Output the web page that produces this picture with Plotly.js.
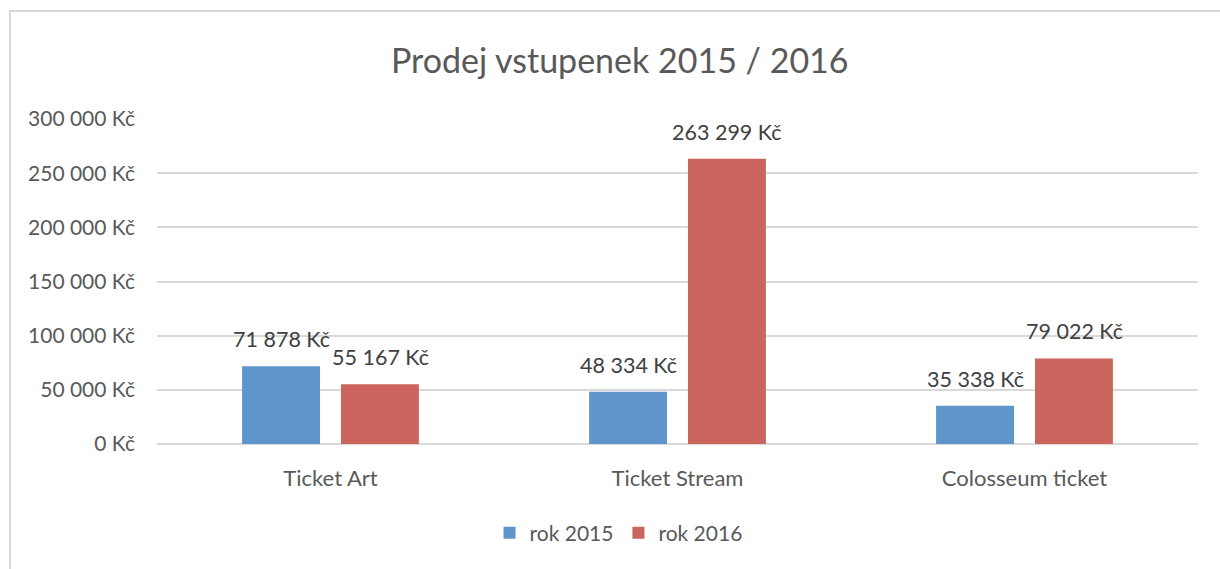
<!DOCTYPE html>
<html><head><meta charset="utf-8">
<script src="https://cdn.plot.ly/plotly-3.0.1.min.js"></script>
<style>
html,body{margin:0;padding:0;background:#fff;overflow:hidden}
#wrap{position:relative;width:1220px;height:569px}
#chart{position:absolute;left:0;top:0;width:1220px;height:569px}
#frame{position:absolute;left:9px;top:10px;width:1300px;height:700px;border-left:2px solid #d9d9d9;border-top:2px solid #d9d9d9;pointer-events:none}
</style></head>
<body><div id="wrap"><div id="chart"></div><div id="frame"></div></div>
<script>
const categories = ["Ticket Art", "Ticket Stream", "Colosseum ticket"];
const seriesNames = ["rok 2015", "rok 2016"];
const values2015 = [71878, 48334, 35338];
const values2016 = [55167, 263299, 79022];
const yTicks = [0, 50000, 100000, 150000, 200000, 250000, 300000];

function fmt(v){ return String(v).replace(/\B(?=(\d{3})+(?!\d))/g, " ") + " Kč"; }

const colors = ["#5F95CA", "#CC655D"];
const font = "Lato, 'Open Sans', sans-serif";

const traces = [values2015, values2016].map((vals, i) => ({
  type: "bar", name: seriesNames[i], x: categories, y: vals,
  marker: {color: colors[i]}, hoverinfo: "skip"
}));

const annotations = [];
[values2015, values2016].forEach((vals, i) => {
  vals.forEach((v, j) => {
    annotations.push({
      x: categories[j], y: v, xref: "x", yref: "y",
      text: fmt(v), showarrow: false, yanchor: "bottom",
      xshift: i === 0 ? -49.5 : 49.5, yshift: 12,
      font: {family: font, size: 21.5, color: "#404040"}
    });
  });
});

const layout = {
  width: 1220, height: 569,
  margin: {l: 157, r: 22, t: 119, b: 125},
  paper_bgcolor: "rgba(0,0,0,0)", plot_bgcolor: "#fff",
  title: {text: "Prodej vstupenek 2015 / 2016", x: 0.508, xanchor: "center", y: 0.892, yanchor: "middle",
          font: {family: font, size: 34, color: "#595959"}},
  barmode: "group", bargap: 0.43, bargroupgap: 0.212,
  xaxis: {type: "category", showgrid: false, zeroline: false, showline: false, ticks: "",
          ticklabelstandoff: 19, tickfont: {family: font, size: 22, color: "#595959"}},
  yaxis: {range: [0, 300000], tickvals: yTicks, ticktext: yTicks.map(fmt),
          showgrid: true, gridcolor: "#d9d9d9", gridwidth: 2, zeroline: true, zerolinecolor: "#d9d9d9", zerolinewidth: 2,
          showline: false, ticks: "", ticklabelstandoff: 21,
          tickfont: {family: font, size: 21, color: "#595959"}},
  legend: {orientation: "h", xref: "container", yref: "container", x: 0.507, xanchor: "center", y: 0.063, yanchor: "middle",
           font: {family: font, size: 21, color: "#595959"}, itemwidth: 30, traceorder: "normal"},
  annotations: annotations,
  showlegend: true
};

Plotly.newPlot("chart", traces, layout, {displayModeBar: false, staticPlot: true});
</script></body></html>
